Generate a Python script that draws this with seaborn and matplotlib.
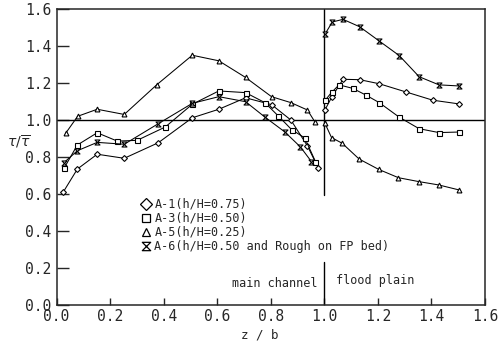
import matplotlib
matplotlib.use("Agg")
import matplotlib.pyplot as plt
import seaborn as sns
import pandas as pd
from matplotlib.path import Path
from matplotlib.lines import Line2D

# ---- data ----
a1_mc_z = [0.025, 0.078, 0.152, 0.253, 0.38, 0.507, 0.606, 0.706, 0.803, 0.875, 0.937, 0.977]
a1_mc_t = [0.61, 0.735, 0.815, 0.793, 0.877, 1.012, 1.058, 1.12, 1.083, 1.0, 0.86, 0.742]
a1_fp_z = [1.003, 1.027, 1.07, 1.132, 1.205, 1.304, 1.405, 1.503]
a1_fp_t = [1.056, 1.122, 1.22, 1.218, 1.196, 1.152, 1.107, 1.087]

a3_mc_z = [0.028, 0.078, 0.152, 0.227, 0.301, 0.406, 0.507, 0.606, 0.706, 0.778, 0.828, 0.878, 0.927, 0.967]
a3_mc_t = [0.739, 0.865, 0.931, 0.886, 0.89, 0.962, 1.085, 1.157, 1.148, 1.094, 1.022, 0.948, 0.903, 0.775]
a3_fp_z = [1.004, 1.027, 1.055, 1.106, 1.155, 1.205, 1.28, 1.354, 1.428, 1.503]
a3_fp_t = [1.108, 1.149, 1.19, 1.171, 1.135, 1.094, 1.015, 0.953, 0.932, 0.935]

a5_mc_z = [0.035, 0.079, 0.152, 0.253, 0.374, 0.507, 0.606, 0.706, 0.803, 0.875, 0.937, 0.966]
a5_mc_t = [0.93, 1.02, 1.058, 1.03, 1.19, 1.35, 1.32, 1.23, 1.126, 1.094, 1.054, 0.987]
a5_fp_z = [1.001, 1.027, 1.067, 1.13, 1.203, 1.277, 1.353, 1.427, 1.503]
a5_fp_t = [0.986, 0.905, 0.874, 0.789, 0.733, 0.688, 0.667, 0.649, 0.622]

a6_mc_z = [0.028, 0.078, 0.152, 0.253, 0.38, 0.507, 0.606, 0.706, 0.778, 0.853, 0.911, 0.952]
a6_mc_t = [0.77, 0.834, 0.879, 0.869, 0.98, 1.09, 1.126, 1.099, 1.016, 0.935, 0.854, 0.775]
a6_fp_z = [1.002, 1.03, 1.07, 1.132, 1.205, 1.28, 1.354, 1.428, 1.503]
a6_fp_t = [1.463, 1.53, 1.544, 1.504, 1.427, 1.348, 1.234, 1.19, 1.184]

labels = ["A-1(h/H=0.75)", "A-3(h/H=0.50)", "A-5(h/H=0.25)",
          "A-6(h/H=0.50 and Rough on FP bed)"]
x_ticks = [0.0, 0.2, 0.4, 0.6, 0.8, 1.0, 1.2, 1.4, 1.6]
y_ticks = [0.0, 0.2, 0.4, 0.6, 0.8, 1.0, 1.2, 1.4, 1.6]

# ---- style ----
sns.set_style("ticks")
plt.rcParams["font.family"] = ["DejaVu Sans Mono", "DejaVu Sans"]

hourglass = Path([(-1, 1), (1, 1), (-1, -1), (1, -1), (-1, 1)],
                 [Path.MOVETO, Path.LINETO, Path.LINETO, Path.LINETO, Path.CLOSEPOLY])

series = [
    ("A-1", "D", 3.0, [(a1_mc_z, a1_mc_t), (a1_fp_z, a1_fp_t)]),
    ("A-3", "s", 3.6, [(a3_mc_z, a3_mc_t), (a3_fp_z, a3_fp_t)]),
    ("A-5", "^", 3.5, [(a5_mc_z, a5_mc_t), (a5_fp_z, a5_fp_t)]),
    ("A-6", hourglass, 3.6, [(a6_mc_z, a6_mc_t), (a6_fp_z, a6_fp_t)]),
]

fig = plt.figure(figsize=(5.01, 3.43), dpi=100)
ax = fig.add_axes([56.5 / 501, 1 - 305 / 343, (485 - 56.5) / 501, (305 - 9) / 343])

for name, mk, ms, segs in series:
    for z, t in segs:
        df = pd.DataFrame({"z": z, "tau": t})
        sns.lineplot(data=df, x="z", y="tau", ax=ax, sort=False, estimator=None,
                     color="black", linewidth=0.75, marker=mk, markersize=ms,
                     markerfacecolor="white", markeredgecolor="black",
                     markeredgewidth=0.8, legend=False)

# reference lines
ax.axhline(1.0, color="black", linewidth=1.0, zorder=1)
ax.plot([1.0, 1.0], [0.595, 1.6], color="black", linewidth=1.0, zorder=1)
ax.plot([1.0, 1.0], [0.0, 0.232], color="black", linewidth=1.0, zorder=1)

ax.set_xlim(0, 1.6)
ax.set_ylim(0, 1.6)
ax.set_xticks(x_ticks)
ax.set_yticks(y_ticks)
ax.set_xticklabels([f"{v:.1f}" for v in x_ticks])
ax.set_yticklabels([f"{v:.1f}" for v in y_ticks])
ax.tick_params(axis="x", direction="in", length=5, width=1.0, pad=3, labelsize=10.5)
ax.tick_params(axis="y", direction="in", length=8.5, width=1.0, pad=4, labelsize=10.5)
for s in ax.spines.values():
    s.set_visible(True)
    s.set_linewidth(1.1)
ax.set_xlabel("")
ax.set_ylabel("")

fig.text(19 / 501, 1 - 142 / 343, r"$\tau/\overline{\tau}$", ha="center", va="center", fontsize=10)
fig.text(260 / 501, 1 - 335 / 343, "z / b", ha="center", va="center", fontsize=9)

ax.text(0.975, 0.118, "main channel", ha="right", va="center", fontsize=8.5)
ax.text(1.045, 0.13, "flood plain", ha="left", va="center", fontsize=8.5)

handles = []
for name, mk, ms, segs in series:
    handles.append(Line2D([], [], linestyle="none", marker=mk, markersize=6,
                          markerfacecolor="white", markeredgecolor="black",
                          markeredgewidth=0.9))
ax.legend(handles, labels, loc="upper left", bbox_to_anchor=(0.198, 0.362),
          frameon=False, handlelength=0.8, handletextpad=0.3, labelspacing=0.08,
          borderpad=0, borderaxespad=0, fontsize=8.5)

fig.savefig("out.png", dpi=100)
